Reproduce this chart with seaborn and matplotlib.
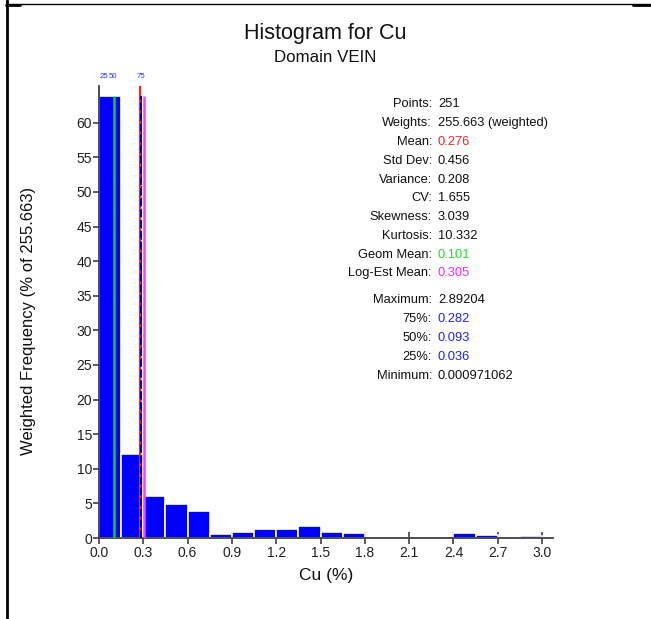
import numpy as np
import pandas as pd
import matplotlib
matplotlib.use("Agg")
import matplotlib.pyplot as plt
import matplotlib.transforms as mtransforms
from matplotlib.lines import Line2D
import seaborn as sns

# Histogram bins (lower edges, % units) and weighted frequencies (% of total weight)
bin_width = 0.15
bin_lo = [0.0, 0.15, 0.30, 0.45, 0.60, 0.75, 0.90, 1.05, 1.20, 1.35,
          1.50, 1.65, 1.80, 1.95, 2.10, 2.25, 2.40, 2.55, 2.70, 2.85]
freq = [63.8, 12.1, 6.0, 4.9, 3.9, 0.53, 0.82, 1.26, 1.26, 1.73,
        0.82, 0.68, 0.0, 0.0, 0.0, 0.0, 0.72, 0.5, 0.0, 0.36]

# Summary statistics
stat_labels = ["Points:", "Weights:", "Mean:", "Std Dev:", "Variance:", "CV:",
               "Skewness:", "Kurtosis:", "Geom Mean:", "Log-Est Mean:",
               "Maximum:", "75%:", "50%:", "25%:", "Minimum:"]
stat_values = ["251", "255.663 (weighted)", "0.276", "0.456", "0.208", "1.655",
               "3.039", "10.332", "0.101", "0.305",
               "2.89204", "0.282", "0.093", "0.036", "0.000971062"]
stat_colors = ["#111111", "#111111", "#FF2020", "#111111", "#111111", "#111111",
               "#111111", "#111111", "#20E020", "#FF20FF",
               "#111111", "#2020FF", "#2020FF", "#2020FF", "#111111"]

mean_val = 0.276
geom_mean = 0.101
log_est_mean = 0.305
quartiles = [0.036, 0.093, 0.282]
quartile_names = ["25", "50", "75"]

x_ticks = [0.0, 0.3, 0.6, 0.9, 1.2, 1.5, 1.8, 2.1, 2.4, 2.7, 3.0]
y_ticks = list(range(0, 61, 5))

sns.set_style("white")
plt.rcParams["font.family"] = ["Liberation Sans", "DejaVu Sans"]

W, H = 651, 619
fig = plt.figure(figsize=(W / 100, H / 100), dpi=100)
ax_l, ax_r, ax_b, ax_t = 99, 553, 538, 86
ax = fig.add_axes([ax_l / W, 1 - ax_b / H, (ax_r - ax_l) / W, (ax_b - ax_t) / H])

df = pd.DataFrame({"Cu": [b + bin_width / 2 for b in bin_lo], "w": freq})
edges = bin_lo + [bin_lo[-1] + bin_width]
sns.histplot(data=df, x="Cu", weights="w", bins=edges, ax=ax,
             color="#0000FF", edgecolor="white", linewidth=1.2, alpha=1.0)

ax.set_xlim(0, 3.074)
ax.set_ylim(0, 65.3)
top_freq = max(freq)

# Reference lines: quartiles (blue dashed, drawn under the bars), geometric mean,
# log-estimated mean and mean
for q in quartiles:
    ax.vlines(q, 0, top_freq, colors="#0000B0", linestyles=(0, (4, 1.5)),
              linewidth=1.5, zorder=0.5)
ax.vlines(geom_mean, 0, top_freq, colors="#00E000", linewidth=1.8, zorder=3)
ax.vlines(log_est_mean, 0, top_freq, colors="#FF40FF", linewidth=1.8, zorder=3)
ax.vlines(mean_val, 0, 65.3, colors="#FF2020", linewidth=1.6, zorder=3)
ax.vlines(quartiles[2], 0, top_freq, colors="#0000B0", linestyles=(0, (4, 1.5)),
          linewidth=1.4, zorder=4)

trans = mtransforms.blended_transform_factory(ax.transData, ax.transAxes)
for q, name in zip(quartiles, quartile_names):
    ax.text(q, 1.022, name, transform=trans, ha="center", va="center",
            fontsize=5.6, color="#3030FF", clip_on=False)

# Axes styling
for side in ["top", "right"]:
    ax.spines[side].set_visible(False)
for side in ["left", "bottom"]:
    ax.spines[side].set_color("#404040")
    ax.spines[side].set_linewidth(1.3)
ax.set_xticks(x_ticks)
ax.set_xticklabels([f"{v:.1f}" for v in x_ticks])
ax.set_yticks(y_ticks)
ax.tick_params(axis="x", direction="inout", length=8, width=1.2, color="#404040",
               labelsize=10, labelcolor="#202020", pad=2, bottom=True)
ax.tick_params(axis="y", direction="out", length=4, width=1.2, color="#404040",
               labelsize=10, labelcolor="#202020", pad=1, left=True)

ax.set_xlabel("Cu (%)", fontsize=12.5, color="#111111")
ax.set_ylabel("Weighted Frequency (% of 255.663)", fontsize=12, color="#111111")
ax.xaxis.set_label_coords(0.5, (ax_b - 568) / (ax_b - ax_t))
ax.yaxis.set_label_coords((36 - ax_l) / (ax_r - ax_l), (ax_b - 321) / (ax_b - ax_t))

# Titles
fig.text(325 / W, 1 - 33 / H, "Histogram for Cu", ha="center", va="center",
         fontsize=15.5, color="#111111")
fig.text(325 / W, 1 - 58 / H, "Domain VEIN", ha="center", va="center",
         fontsize=12.2, color="#111111")

# Statistics block
row_y = [104, 123, 142, 161, 180, 198, 217, 236, 255, 273, 300, 319, 338, 357, 376]
for lab, val, col, yy in zip(stat_labels, stat_values, stat_colors, row_y):
    fig.text(432 / W, 1 - yy / H, lab, ha="right", va="center", fontsize=9.3, color="#111111")
    fig.text(438 / W, 1 - yy / H, val, ha="left", va="center", fontsize=9.3, color=col)

# Page frame
fig.add_artist(Line2D([6.5 / W, 6.5 / W], [0, 1], transform=fig.transFigure, color="black", linewidth=2))
fig.add_artist(Line2D([6 / W, 1], [1 - 4 / H, 1 - 4 / H], transform=fig.transFigure, color="black", linewidth=1))
fig.add_artist(Line2D([6 / W, 20 / W], [1 - 5 / H, 1 - 5 / H], transform=fig.transFigure, color="black", linewidth=2))
fig.add_artist(Line2D([633 / W, 1], [1 - 5 / H, 1 - 5 / H], transform=fig.transFigure, color="black", linewidth=2))

fig.savefig("out.png", dpi=100, facecolor="white")
